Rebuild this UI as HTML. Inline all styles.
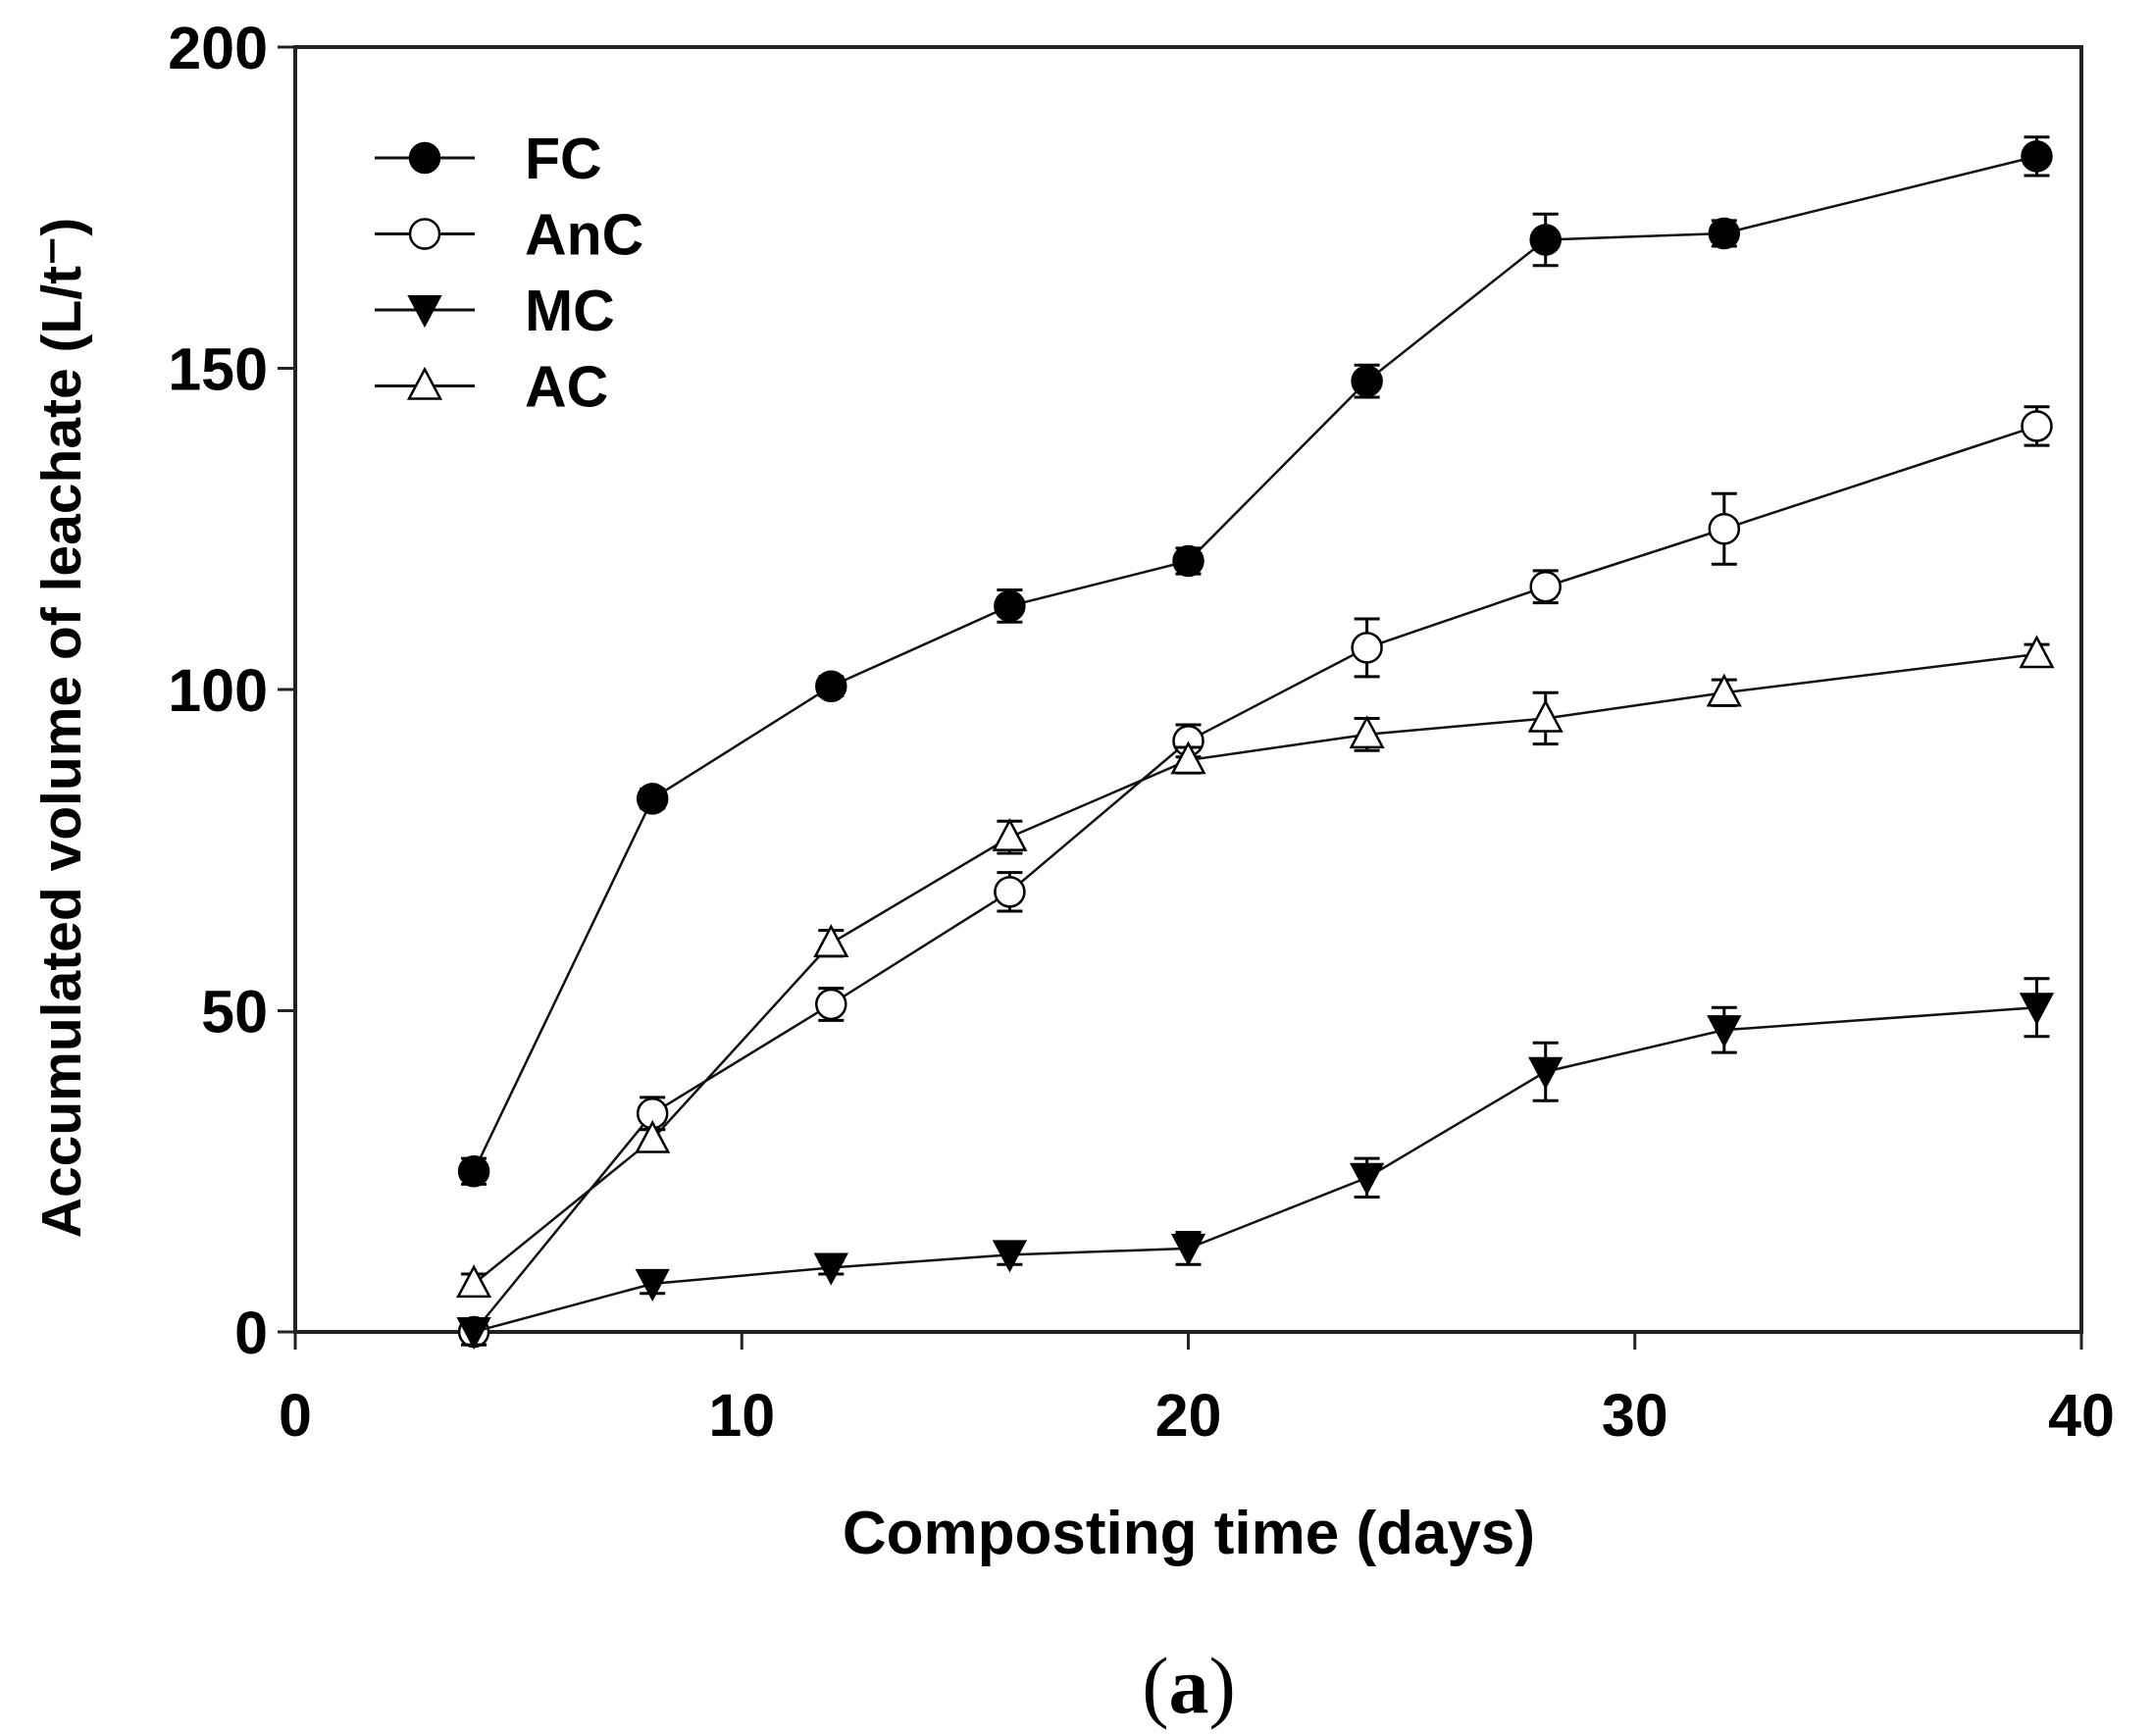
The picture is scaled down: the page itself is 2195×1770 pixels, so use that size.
<!DOCTYPE html>
<html><head><meta charset="utf-8"><style>
body{margin:0;background:#fff}
svg{display:block}
text{font-family:"Liberation Sans",Arial,sans-serif;font-weight:bold;fill:#000}
</style></head><body>
<svg id="chart" width="2195" height="1770" viewBox="0 0 2195 1770" xmlns="http://www.w3.org/2000/svg">
<rect width="2195" height="1770" fill="#fff"/>
<g id="plot"></g>
<text x="0" y="0" font-size="57" text-anchor="middle" transform="translate(82,742) rotate(-90)">Accumulated volume of leachate (L/t⁻)</text>
<text x="1212" y="1584" font-size="62" text-anchor="middle">Composting time (days)</text>
<text x="1212" y="1746" font-size="82" text-anchor="middle" style="font-family:'Liberation Serif',serif;font-weight:normal">(<tspan font-weight="bold">a</tspan>)</text>
</svg>
<script>
const days=[4,8,12,16,20,24,28,32,39];
const fcVals=[25,83,100.5,113,120,148,170,171,183];
const fcErr=[2,1.5,1.5,2.5,2,2.5,4,2,3];
const ancVals=[0,34,51,68.5,92,106.5,116,125,141];
const ancErr=[2,2.5,2.5,3,2.5,4.5,2.5,5.5,3];
const mcVals=[0,7.5,10,12,13,24,40.5,47,50.5];
const mcErr=[2,1.5,1,1.5,2.5,3,4.5,3.5,4.5];
const acVals=[7.5,30,60.5,77,89,93,95.5,99.5,105.5];
const acErr=[1.5,1.5,2,2.5,2,2.5,4,2,1.5];
const xTicks=[0,10,20,30,40];
const yTicks=[0,50,100,150,200];
const seriesNames=["FC","AnC","MC","AC"];

const X0=301,X1=2122,Y0=1358,Y1=48;
function xs(v){return X0+(v-0)/(40-0)*(X1-X0);}
function ys(v){return Y0-(v-0)/(200-0)*(Y0-Y1);}
const NS="http://www.w3.org/2000/svg";
const plot=document.getElementById('plot');
function mk(tag,attrs,parent){const e=document.createElementNS(NS,tag);for(const k in attrs)e.setAttribute(k,attrs[k]);(parent||plot).appendChild(e);return e;}

const frame=mk('rect',{x:X0,y:Y1,width:X1-X0,height:Y0-Y1,fill:'none',stroke:'#222','stroke-width':4});


xTicks.forEach(t=>{
  const l=mk('line',{x1:xs(t),x2:xs(t),y1:Y0,y2:Y0+18,stroke:'#222','stroke-width':3});
  
  
  const tx=mk('text',{x:xs(t),y:Y0+106,'font-size':61,'text-anchor':'middle'});
  tx.textContent=t;
  
  
});
yTicks.forEach(t=>{
  const l=mk('line',{x1:X0-18,x2:X0,y1:ys(t),y2:ys(t),stroke:'#222','stroke-width':3});
  
  
  const tx=mk('text',{x:X0-28,y:ys(t)+22,'font-size':61,'text-anchor':'end'});
  tx.textContent=t;
  
  
});

function marker(kind,cx,cy,g){
  const r=15;
  if(kind==='fc'||kind==='anc'){
    return mk('circle',{cx:cx,cy:cy,r:r,fill:kind==='fc'?'#000':'#fff',stroke:'#000','stroke-width':2.5},g);
  }
  if(kind==='mc'){
    return mk('polygon',{points:`${cx-16},${cy-14} ${cx+16},${cy-14} ${cx},${cy+16}`,fill:'#000',stroke:'#000','stroke-width':2},g);
  }
  return mk('polygon',{points:`${cx-16},${cy+13} ${cx+16},${cy+13} ${cx},${cy-17}`,fill:'#fff',stroke:'#000','stroke-width':2.5},g);
}

const series=[['fc',fcVals,fcErr],['anc',ancVals,ancErr],['mc',mcVals,mcErr],['ac',acVals,acErr]];
series.forEach(([k,vals,err],si)=>{
  const g=mk('g',{});
  
  
  const pl=mk('polyline',{points:days.map((d,i)=>xs(d)+','+ys(vals[i])).join(' '),fill:'none',stroke:'#111','stroke-width':2.5},g);
  
  
  days.forEach((d,i)=>{
    const cx=xs(d),top=ys(vals[i]+err[i]),bot=ys(vals[i]-err[i]);
    const eb=mk('path',{d:`M${cx},${top}V${bot}M${cx-13},${top}H${cx+13}M${cx-13},${bot}H${cx+13}`,stroke:'#000','stroke-width':3,fill:'none'},g);
    
    
    const m=marker(k,cx,ys(vals[i]),g);
    
    
  });
  const ly=161+si*77.5;
  const lg=mk('g',{});
  
  
  mk('line',{x1:382,x2:484,y1:ly,y2:ly,stroke:'#111','stroke-width':3},lg);
  marker(k,433,ly,lg);
  const t=mk('text',{x:535,y:ly+21,'font-size':59},lg);
  t.textContent=seriesNames[si];
});
</script>
</body></html>
